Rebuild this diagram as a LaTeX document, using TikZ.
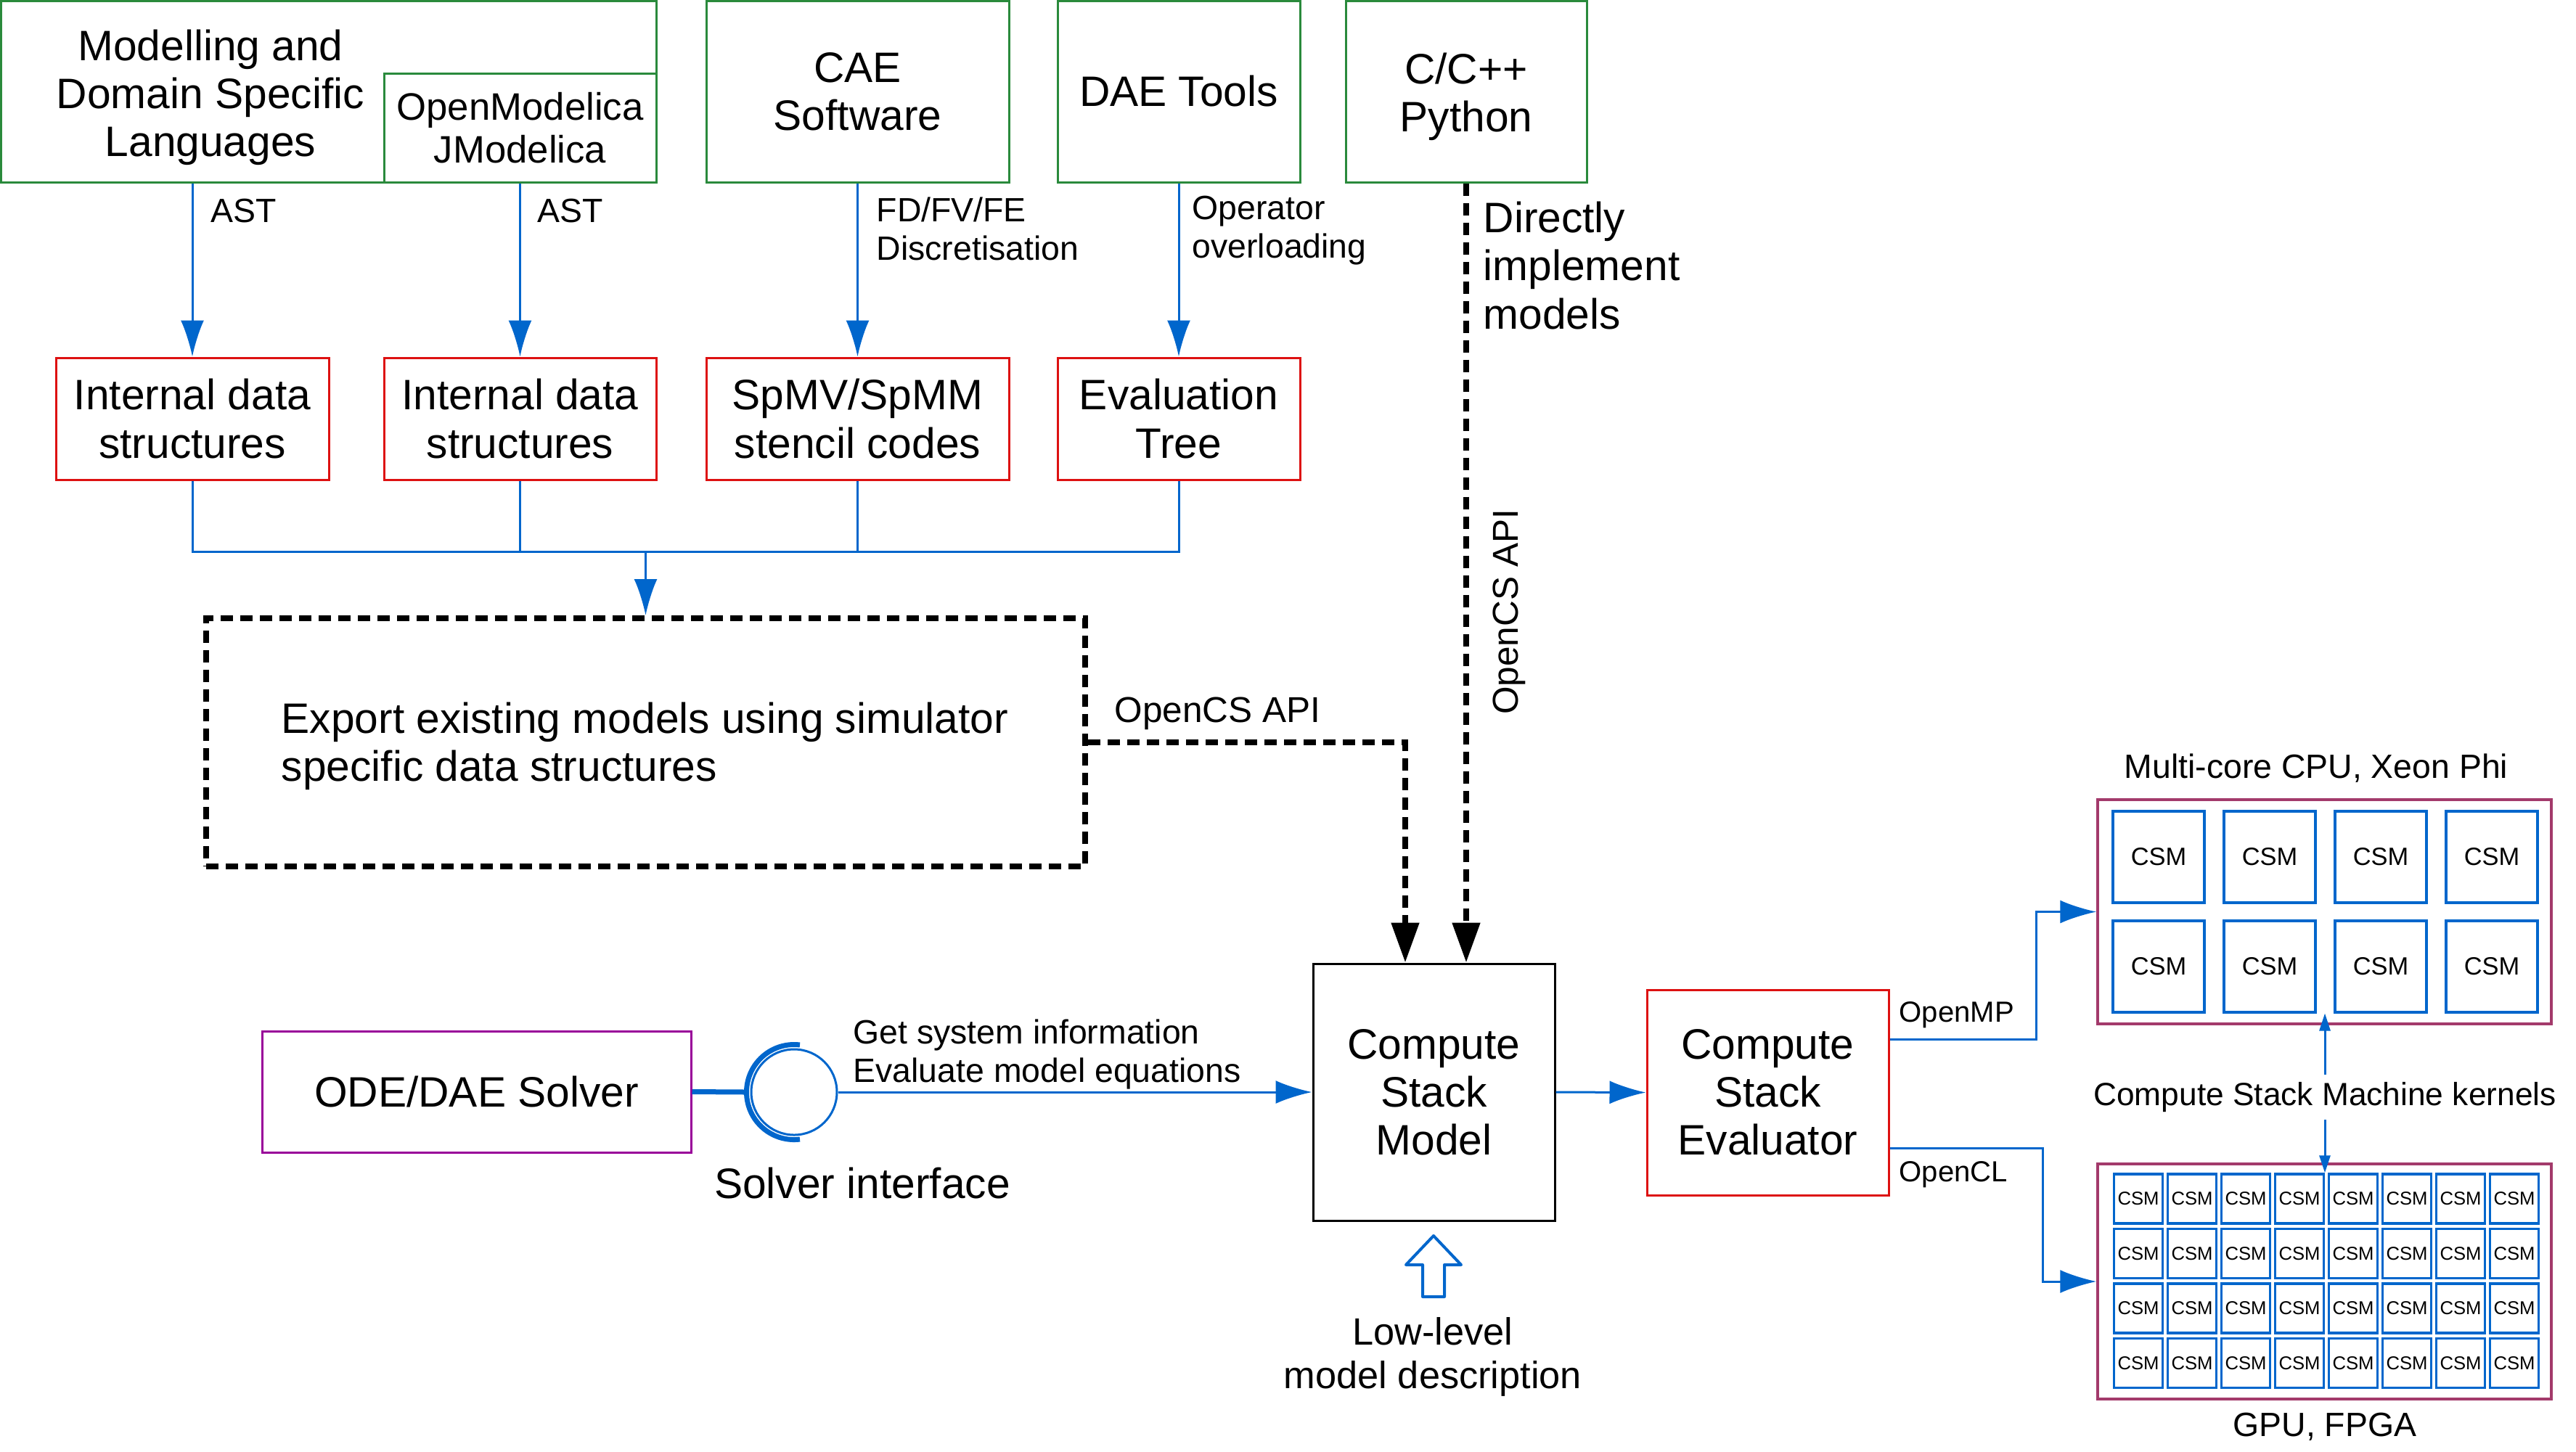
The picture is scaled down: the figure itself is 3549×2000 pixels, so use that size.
\documentclass[tikz,border=0pt]{standalone}
\usepackage{fontspec}
\setmainfont{Liberation Sans}
\usetikzlibrary{arrows.meta,calc}
\definecolor{cblue}{HTML}{0066CC}
\definecolor{cgreen}{HTML}{2A8A3C}
\definecolor{cred}{HTML}{DD1111}
\definecolor{cpurple}{HTML}{990099}
\definecolor{cplum}{HTML}{A33A6B}

\begin{document}
\begin{tikzpicture}[x=0.1mm,y=-0.1mm,
        every node/.style={font=\fontsize{16.7}{18.8}\selectfont,inner sep=0pt,align=center},
        gbox/.style={draw=cgreen,line width=0.3mm,minimum height=25mm},
        rbox/.style={draw=cred,line width=0.3mm,minimum height=16.8mm},
        lbl/.style={font=\fontsize{13.2}{15.1}\selectfont,align=left,anchor=west},
        conn/.style={draw=cblue,line width=0.3mm,-{Latex[length=5mm,width=3.2mm]}},
        api/.style={line width=0.8mm,dash pattern=on 1.7mm off 1mm,-{Triangle[length=5.5mm,width=3.7mm]}},
        csm/.style={draw=cblue,line width=0.4mm,minimum width=12.6mm,minimum height=12.6mm,font=\fontsize{9.8}{11}\selectfont},
        csmsmall/.style={draw=cblue,line width=0.35mm,minimum width=6.7mm,minimum height=6.8mm,font=\fontsize{7.3}{8}\selectfont}]
                \useasboundingbox (0,0) rectangle (3549,2000);

                \node[gbox,minimum width=90.3mm] (dsl) at (452.5,126) {};
                \node (dsltxt) at (290,134) {Modelling and\\Domain Specific\\Languages};
                \node[gbox,minimum width=37.5mm,minimum height=15mm,font=\fontsize{15}{16.8}\selectfont] (omc) at (716.5,176) {OpenModelica\\JModelica};
                \node[gbox,minimum width=41.7mm] (cae) at (1181.5,126) {CAE\\Software};
                \node[gbox,minimum width=33.4mm] (dae) at (1624,126) {DAE Tools};
                \node[gbox,minimum width=33.2mm] (cpp) at (2020,126) {};
                \node (cpptxt) at (2020,133) {C/C++\\Python};

                \node[rbox,minimum width=37.6mm] (ids1) at (265,577) {Internal data\\structures};
                \node[rbox,minimum width=37.5mm] (ids2) at (716.5,577) {Internal data\\structures};
                \node[rbox,minimum width=41.7mm] (spmv) at (1181.5,577) {SpMV/SpMM\\stencil codes};
                \node[rbox,minimum width=33.4mm] (evt) at (1624,577) {Evaluation\\Tree};

                \draw[conn] (ids1.north |- dsl.south) -- (ids1.north);
                \draw[conn] (omc.south) -- (ids2.north);
                \draw[conn] (cae.south) -- (spmv.north);
                \draw[conn] (dae.south) -- (evt.north);
                \node[lbl] (ast1) at (290,291) {AST};
                \node[lbl] (ast2) at (740,291) {AST};
                \node[lbl] (fdm) at (1207,315) {FD/FV/FE\\Discretisation};
                \node[lbl] (opov) at (1642,318) {Operator\\overloading};

                \node[draw,line width=0.8mm,dash pattern=on 1.7mm off 1mm,minimum width=121.1mm,minimum height=34.2mm] (export) at (889.5,1023) {};
                \node[anchor=west,align=left] (exptxt) at (387,1028) {Export existing models using simulator\\specific data structures};

                \coordinate (bus) at (889.5,760);
                \draw[cblue,line width=0.3mm] (ids1.south) |- (evt.south |- bus) -- (evt.south);
                \draw[cblue,line width=0.3mm] (ids2.south) -- (ids2.south |- bus) (spmv.south) -- (spmv.south |- bus);
                \draw[conn] (bus) -- (export.north);

                \node[draw,line width=0.3mm,minimum width=33.3mm,minimum height=35.4mm] (csmodel) at (1975.5,1505) {Compute\\Stack\\Model};
                \node[draw=cred,line width=0.3mm,minimum width=33.3mm,minimum height=28.3mm] (csev) at (2435.5,1505.5) {Compute\\Stack\\Evaluator};

                \draw[api] (export.east) -| ([xshift=-3.95mm]csmodel.north);
                \node[anchor=west,font=\fontsize{14.1}{16}\selectfont] (apilbl) at (1535,983) {OpenCS API};
                \draw[api] (cpp.south) -- (cpp.south |- csmodel.north);
                \node[rotate=90,font=\fontsize{14.1}{16}\selectfont] (apirot) at (2079,843) {OpenCS API};
                \node[anchor=west,align=left] (direct) at (2043,366) {Directly\\implement\\models};

                \node[draw=cpurple,line width=0.3mm,minimum width=59.1mm,minimum height=16.7mm] (solver) at (656.5,1504.5) {ODE/DAE Solver};
                \node[circle,draw=cblue,line width=0.3mm,minimum size=11.8mm] (ball) at (1094,1505) {};
                \draw[cblue,line width=0.7mm] (solver.east) -- ([xshift=-6.55mm]ball.center);
                \draw[cblue,line width=0.7mm] (ball.center) ++(83:65.5) arc[start angle=83,end angle=277,radius=65.5];
                \draw[conn] (ball.east) -- (csmodel.west);
                \node (solvif) at (1188,1630) {Solver interface};
                \node[lbl] (gsi) at (1175,1453) {Get system information\\Evaluate model equations};

                \draw[cblue,line width=0.4mm,line join=round] (1975,1703) -- (2013,1743) -- (1990,1743) -- (1990,1787)
                        -- (1960,1787) -- (1960,1743) -- (1937,1743) -- cycle;
                \node[font=\fontsize{14.9}{17.3}\selectfont] (lowlvl) at (1974,1870) {Low-level\\model description};

                \draw[conn] (csmodel.east) -- (csev.west);

                \node[draw=cplum,line width=0.35mm,minimum width=62.5mm,minimum height=30.9mm] (cpu) at (3202.5,1256.5) {};
                \node[font=\fontsize{13.2}{15}\selectfont] (cputxt) at (3191,1059) {Multi-core CPU, Xeon Phi};
                \foreach \i in {1,...,4}
                    \foreach \j in {1,2}
                        \node[csm] (c\j\i) at ({2974+153*(\i-1)},{1181+150.5*(\j-1)}) {CSM};

                \node[draw=cplum,line width=0.35mm,minimum width=62.5mm,minimum height=32.4mm] (gpu) at (3202.5,1766) {};
                \foreach \i in {1,...,8}
                    \foreach \j in {1,...,4}
                        \node[csmsmall] (g\j\i) at ({2946+74*(\i-1)},{1652+75.5*(\j-1)}) {CSM};
                \node[font=\fontsize{13.2}{15}\selectfont] (gputxt) at (3203,1966) {GPU, FPGA};

                \node[font=\fontsize{12.6}{14}\selectfont,inner sep=1mm] (kern) at (3203,1512) {Compute Stack Machine kernels};
                \draw[cblue,line width=0.3mm,-{Triangle[length=2.4mm,width=1.5mm]}] (kern.north) -- (kern.north |- c22.south);
                \draw[cblue,line width=0.3mm,-{Triangle[length=2.4mm,width=1.5mm]}] (kern.south) -- (kern.south |- g11.north);

                \draw[conn] ([yshift=7.35mm]csev.east) -- ++(202,0) |- (cpu.west);
                \node[anchor=west,font=\fontsize{11.4}{13}\selectfont] (omp) at (2616,1399) {OpenMP};
                \draw[conn] ([yshift=-7.65mm]csev.east) -- ++(211,0) |- (gpu.west);
                \node[anchor=west,font=\fontsize{11.4}{13}\selectfont] (ocl) at (2616,1619) {OpenCL};
            \end{tikzpicture}
\end{document}
